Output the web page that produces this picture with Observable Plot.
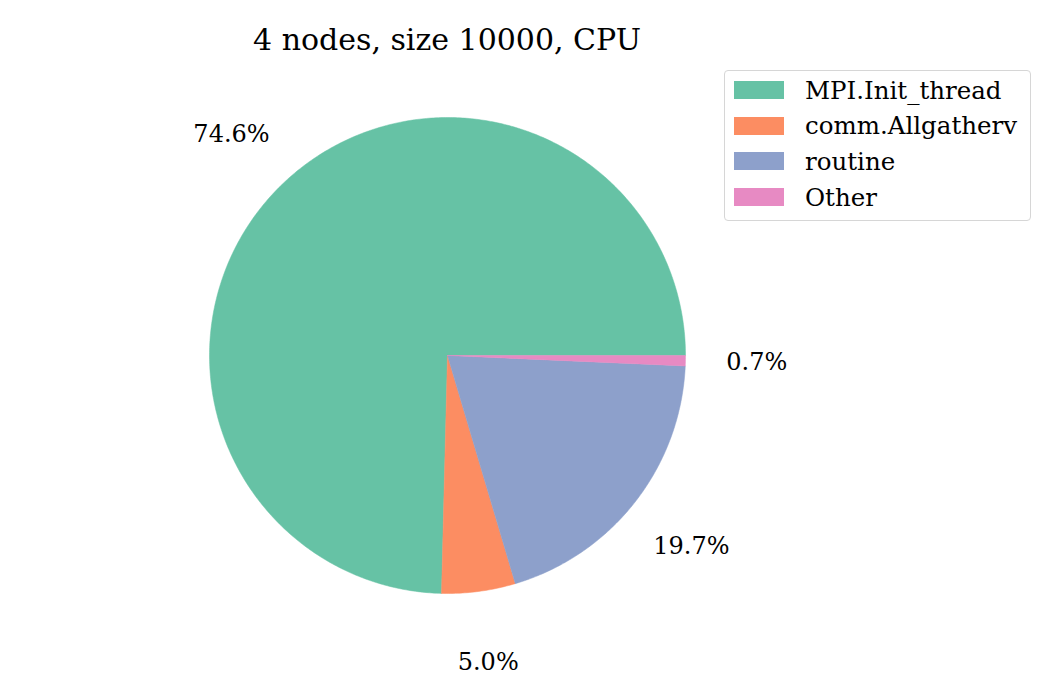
<!DOCTYPE html>
<html>
<head>
<meta charset="utf-8">
<script src="https://cdn.jsdelivr.net/npm/d3@7"></script>
<script src="https://cdn.jsdelivr.net/npm/@observablehq/plot@0.6"></script>
<style>
  html, body { margin: 0; padding: 0; background: #fff; }
  #wrap { position: relative; width: 1040px; height: 700px; font-family: "DejaVu Serif", serif; }
  #title { position: absolute; left: 0; width: 894px; top: 22px; text-align: center; font-size: 30px; color: #000; line-height: 36px; }
  #legend { position: absolute; left: 724px; top: 70px; width: 307px; height: 151px; border: 1.5px solid #d6d6d6; border-radius: 4px; box-sizing: border-box; background: #fff; }
  .item { position: absolute; left: 9px; height: 20px; display: flex; align-items: center; font-size: 24.5px; color: #000; white-space: nowrap; }
  .sw { width: 50px; height: 18px; margin-right: 21px; flex: none; }
  #chart { position: absolute; left: 0; top: 0; }
</style>
</head>
<body>
<div id="wrap">
  <div id="chart"></div>
  <div id="title">4 nodes, size 10000, CPU</div>
  <div id="legend"></div>
</div>
<script>
const categories = ["MPI.Init_thread", "comm.Allgatherv", "routine", "Other"];
const shares = [74.6, 5.0, 19.7, 0.7];
const colors = ["#66c2a5", "#fc8d62", "#8da0cb", "#e78ac3"];

// compute slice polygons (matplotlib style: start at 3 o'clock, counterclockwise)
const total = d3.sum(shares);
const pts = [];
const labels = [];
let acc = 0;
categories.forEach((c, i) => {
  const a0 = acc / total * 2 * Math.PI;
  acc += shares[i];
  const a1 = acc / total * 2 * Math.PI;
  pts.push({cat: c, x: 0, y: 0});
  const n = Math.max(2, Math.ceil((a1 - a0) / 0.01));
  for (let k = 0; k <= n; k++) {
    const a = a0 + (a1 - a0) * k / n;
    pts.push({cat: c, x: Math.cos(a), y: Math.sin(a)});
  }
  pts.push({cat: c, x: 0, y: 0});
  const am = (a0 + a1) / 2;
  labels.push({cat: c, x: 1.3 * Math.cos(am), y: 1.3 * Math.sin(am), text: shares[i].toFixed(1) + "%"});
});

const plot = Plot.plot({
  width: 1040,
  height: 700,
  marginLeft: 209,
  marginRight: 355,
  marginTop: 117,
  marginBottom: 107,
  x: {domain: [-1, 1], axis: null},
  y: {domain: [-1, 1], axis: null},
  color: {domain: categories, range: colors},
  style: {background: "transparent", fontFamily: "DejaVu Serif, serif"},
  marks: [
    Plot.line(pts, {x: "x", y: "y", z: "cat", fill: "cat", stroke: "cat", strokeWidth: 0.5, curve: "linear"}),
    Plot.text(labels, {x: "x", y: "y", text: "text", fontSize: 24, fill: "#000", textAnchor: "middle"})
  ]
});
document.getElementById("chart").appendChild(plot);

const leg = document.getElementById("legend");
categories.forEach((c, i) => {
  const it = document.createElement("div");
  it.className = "item";
  it.style.top = (9 + i * 35.7) + "px";
  const sw = document.createElement("div");
  sw.className = "sw";
  sw.style.background = colors[i];
  const t = document.createElement("span");
  t.textContent = c;
  it.appendChild(sw);
  it.appendChild(t);
  leg.appendChild(it);
});
</script>
</body>
</html>
